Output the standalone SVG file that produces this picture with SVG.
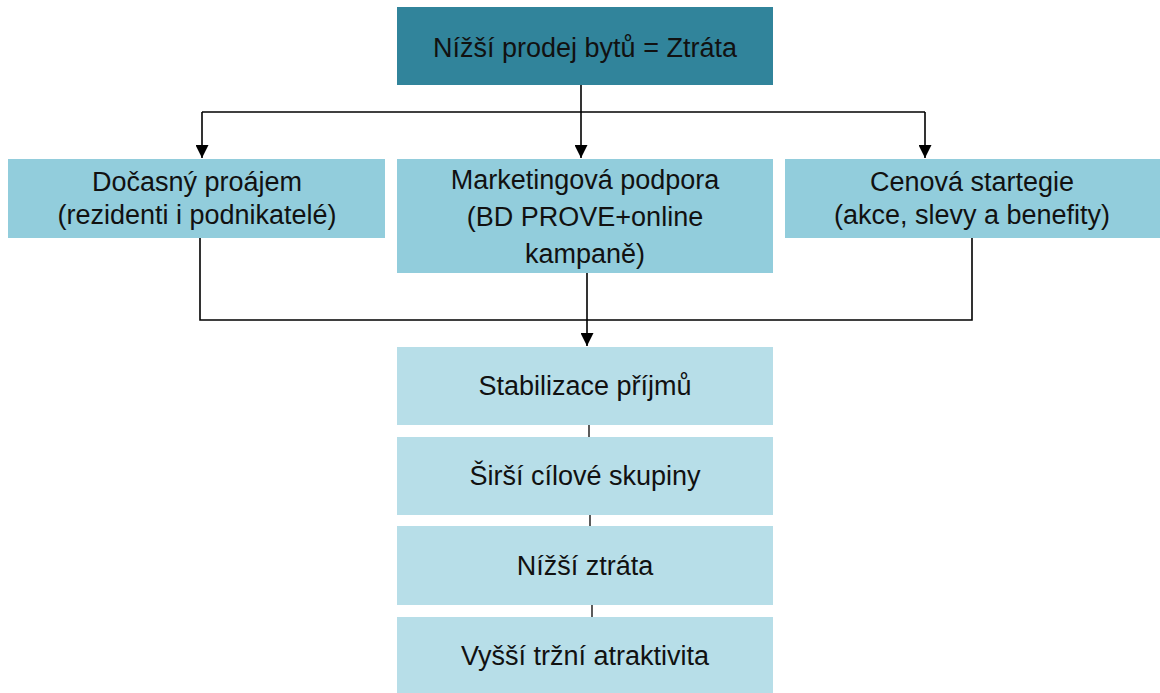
<svg xmlns="http://www.w3.org/2000/svg" width="1160" height="693" viewBox="0 0 1160 693">
  <defs>
    <marker id="arr" viewBox="0 0 13 13" refX="13" refY="6.5" markerWidth="13" markerHeight="13" markerUnits="userSpaceOnUse" orient="auto">
      <path d="M0,0 L13,6.5 L0,13 Z" fill="#000"/>
    </marker>
    <style>
      .t { font-family: "Liberation Sans", Arial, sans-serif; font-size: 27px; fill: #111; text-anchor: middle; }
      .top { fill: #31849B; }
      .mid { fill: #92CDDC; }
      .low { fill: #B7DEE8; }
      .c { fill: none; stroke: #000; stroke-width: 1.6; }
      .s { fill: none; stroke: #333; stroke-width: 1.6; }
    </style>
  </defs>
  <rect width="1160" height="693" fill="#fff"/>
  <g id="connectors">
    <path class="c" d="M581,85 V112"/>
    <path class="c" d="M202,112 H925"/>
    <path class="c" d="M202,112 V158" marker-end="url(#arr)"/>
    <path class="c" d="M581,112 V158" marker-end="url(#arr)"/>
    <path class="c" d="M925,112 V158" marker-end="url(#arr)"/>
    <path class="c" d="M200,238 V320 H972 V238"/>
    <path class="c" d="M587,273 V346" marker-end="url(#arr)"/>
    <path class="s" d="M589,425 V437"/>
    <path class="s" d="M590,515 V526"/>
    <path class="s" d="M592,605 V617"/>
  </g>
  <g id="n-top">
    <rect class="top" x="397" y="7" width="376" height="78"/>
    <text class="t" x="585" y="57">Nížší prodej bytů = Ztráta</text>
  </g>
  <g id="n-docasny">
    <rect class="mid" x="8" y="159" width="377" height="79"/>
    <text class="t" x="197" y="191">Dočasný proájem</text>
    <text class="t" x="197" y="224">(rezidenti i podnikatelé)</text>
  </g>
  <g id="n-marketing">
    <rect class="mid" x="397" y="159" width="376" height="114"/>
    <text class="t" x="585" y="189">Marketingová podpora</text>
    <text class="t" x="585" y="226">(BD PROVE+online</text>
    <text class="t" x="585" y="263">kampaně)</text>
  </g>
  <g id="n-cenova">
    <rect class="mid" x="785" y="159" width="375" height="79"/>
    <text class="t" x="972" y="191">Cenová startegie</text>
    <text class="t" x="972" y="224">(akce, slevy a benefity)</text>
  </g>
  <g id="n-stabilizace">
    <rect class="low" x="397" y="347" width="376" height="78"/>
    <text class="t" x="585" y="395">Stabilizace příjmů</text>
  </g>
  <g id="n-sirsi">
    <rect class="low" x="397" y="437" width="376" height="78"/>
    <text class="t" x="585" y="485">Širší cílové skupiny</text>
  </g>
  <g id="n-nizsi">
    <rect class="low" x="397" y="526" width="376" height="79"/>
    <text class="t" x="585" y="575">Nížší ztráta</text>
  </g>
  <g id="n-vyssi">
    <rect class="low" x="397" y="617" width="376" height="76"/>
    <text class="t" x="585" y="665">Vyšší tržní atraktivita</text>
  </g>
</svg>
